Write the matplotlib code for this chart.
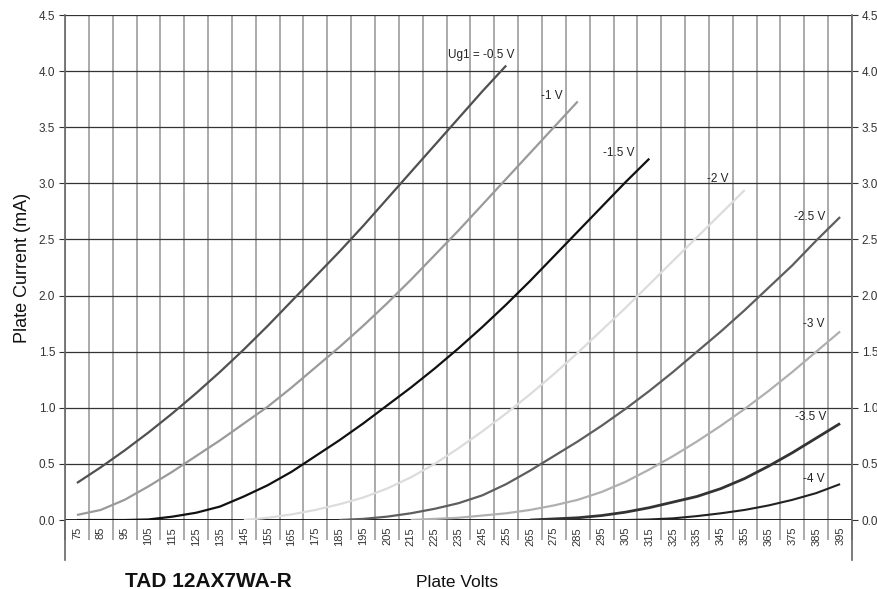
import matplotlib.pyplot as plt
import numpy as np

plt.rcParams['font.family'] = ['Liberation Sans', 'DejaVu Sans']

# plate voltage categories (V)
volts = list(range(75, 400, 10))

# plate current (mA) for each grid voltage, starting at the given plate voltage
ug_05_start = 75
ug_05 = [0.33, 0.47, 0.62, 0.78, 0.95, 1.13, 1.32, 1.52, 1.73, 1.95, 2.17, 2.39, 2.62,
         2.86, 3.10, 3.34, 3.58, 3.82, 4.05]
ug_10_start = 75
ug_10 = [0.045, 0.09, 0.18, 0.30, 0.43, 0.57, 0.71, 0.86, 1.01, 1.18, 1.36, 1.54, 1.73,
         1.93, 2.14, 2.36, 2.58, 2.81, 3.04, 3.27, 3.50, 3.73]
ug_15_start = 75
ug_15 = [0.0, 0.0, 0.0, 0.005, 0.03, 0.065, 0.12, 0.21, 0.31, 0.43, 0.57, 0.71, 0.86,
         1.02, 1.18, 1.35, 1.53, 1.72, 1.92, 2.13, 2.35, 2.57, 2.79, 3.01, 3.22]
ug_20_start = 145
ug_20 = [0.0, 0.02, 0.05, 0.09, 0.14, 0.20, 0.28, 0.38, 0.50, 0.64, 0.79, 0.95, 1.12,
         1.30, 1.49, 1.69, 1.89, 2.10, 2.31, 2.52, 2.73, 2.94]
ug_25_start = 185
ug_25 = [0.0, 0.01, 0.03, 0.06, 0.10, 0.15, 0.22, 0.32, 0.44, 0.57, 0.70, 0.84, 0.99,
         1.15, 1.32, 1.50, 1.68, 1.87, 2.07, 2.27, 2.49, 2.70]
ug_30_start = 215
ug_30 = [0.0, 0.01, 0.02, 0.04, 0.06, 0.09, 0.13, 0.18, 0.25, 0.34, 0.45, 0.57, 0.70,
         0.84, 0.99, 1.15, 1.32, 1.50, 1.68]
ug_35_start = 265
ug_35 = [0.0, 0.01, 0.02, 0.04, 0.07, 0.11, 0.16, 0.21, 0.28, 0.37, 0.48, 0.60, 0.73, 0.86]
ug_40_start = 295
ug_40 = [0.0, 0.0, 0.005, 0.015, 0.035, 0.06, 0.09, 0.13, 0.18, 0.24, 0.32]

labels = ['Ug1 = -0.5 V', '-1 V', '-1.5 V', '-2 V', '-2.5 V', '-3 V', '-3.5 V', '-4 V']

fig = plt.figure(figsize=(8.77, 5.89), dpi=100)
ax = fig.add_axes([0.0741, 0.1171, 0.8974, 0.8574])

series = [
    (ug_05_start, ug_05, '#505050', 1.6),
    (ug_10_start, ug_10, '#9a9a9a', 1.6),
    (ug_15_start, ug_15, '#111111', 1.6),
    (ug_20_start, ug_20, '#dcdcdc', 1.6),
    (ug_25_start, ug_25, '#5e5e5e', 1.6),
    (ug_30_start, ug_30, '#b0b0b0', 1.6),
    (ug_35_start, ug_35, '#333333', 2.0),
    (ug_40_start, ug_40, '#222222', 1.5),
]
for start, vals, col, lw in series:
    i0 = volts.index(start)
    ax.plot(np.arange(i0, i0 + len(vals)), vals, color=col, lw=lw, zorder=3,
            solid_capstyle='butt')

# curve labels
label_pos = [(15.55, 4.14), (19.45, 3.78), (22.05, 3.27), (26.4, 3.04),
             (30.05, 2.70), (30.45, 1.75), (30.1, 0.92), (30.45, 0.37)]
for txt, (lx, ly) in zip(labels, label_pos):
    ax.text(lx, ly, txt, fontsize=8.5, color='#222222', ha='left', va='center', zorder=4)

ax.set_xlim(-0.5, len(volts) - 0.5)
ax.set_ylim(0, 4.5)

# category axis
ax.set_xticks(np.arange(len(volts)))
ax.set_xticklabels([str(v) for v in volts], rotation=90, fontsize=8, color='#333333')
ax.set_xticks(np.arange(len(volts) + 1) - 0.5, minor=True)
ax.tick_params(axis='x', which='major', length=0, pad=5)
ax.tick_params(axis='x', which='minor', length=14.5, width=1.4, color='#aaaaaa')
ax.grid(True, axis='x', which='minor', color='#aaaaaa', lw=1.4, zorder=1)

# value axis, labels on both sides
ax.set_yticks(np.arange(0, 4.51, 0.5))
ax.set_yticklabels(['%.1f' % v for v in np.arange(0, 4.51, 0.5)], fontsize=8.5, color='#333333')
ax.tick_params(axis='y', which='both', left=True, right=True, labelleft=True,
               labelright=True, length=4, width=0.8, color='#333333', pad=3)
ax.grid(True, axis='y', which='major', color='#333333', lw=0.9, zorder=2)

for s in ['top', 'bottom', 'left', 'right']:
    ax.spines[s].set_visible(False)
ax.axhline(0, color='#111111', lw=1.3, zorder=2)
for xs in (0, 1):
    ax.plot([xs, xs], [1, -0.079], transform=ax.transAxes, color='#666666', lw=1.2,
            clip_on=False, zorder=2)

ax.set_ylabel('Plate Current (mA)', fontsize=13, color='#111111')
ax.yaxis.set_label_coords(-0.043, 0.5)

fig.text(0.1425, 0.004, 'TAD 12AX7WA-R', fontsize=15, fontweight='bold', color='#111111',
         ha='left', va='baseline')
fig.text(0.5217, 0.004, 'Plate Volts', fontsize=12.5, color='#111111', ha='center',
         va='baseline')

fig.savefig('out.png', dpi=100)
